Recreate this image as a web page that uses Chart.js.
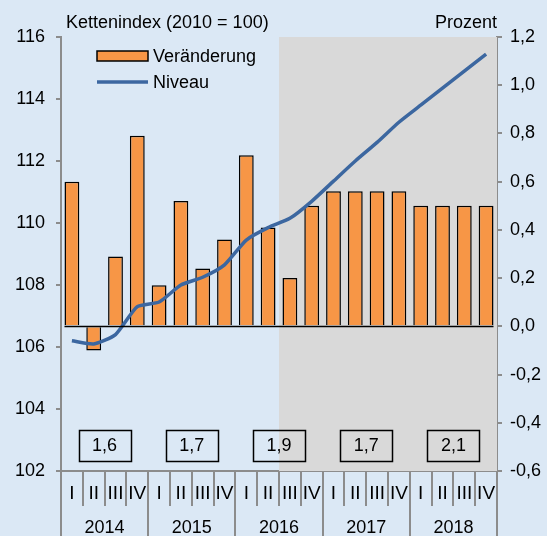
<!DOCTYPE html>
<html>
<head>
<meta charset="utf-8">
<script src="https://cdn.jsdelivr.net/npm/chart.js@4"></script>
<style>
  html, body { margin: 0; padding: 0; background: #dbe8f5; }
  #wrap { width: 547px; height: 536px; }
</style>
</head>
<body>
<div id="wrap"><canvas id="chart-bip" width="547" height="536"></canvas></div>
<script>
// Daten
var quartale = ['I','II','III','IV','I','II','III','IV','I','II','III','IV','I','II','III','IV','I','II','III','IV'];
var jahre = ['2014', '2015', '2016', '2017', '2018'];
var veraenderung = [0.6, -0.1, 0.29, 0.79, 0.17, 0.52, 0.24, 0.36, 0.71, 0.41, 0.2, 0.5, 0.56, 0.56, 0.56, 0.56, 0.5, 0.5, 0.5, 0.5];
var niveau = [106.2, 106.1, 106.4, 107.3, 107.45, 108.0, 108.25, 108.65, 109.45, 109.85, 110.15, 110.7, 111.35, 112.0, 112.6, 113.25, 113.8, 114.35, 114.9, 115.45];
var jahresrate = [1.6, 1.7, 1.9, 1.7, 2.1];
var ticksLinks = [102, 104, 106, 108, 110, 112, 114, 116];
var ticksRechts = [-0.6, -0.4, -0.2, 0.0, 0.2, 0.4, 0.6, 0.8, 1.0, 1.2];
var prognoseAb = 10; // ab 2016 III

var FONT = "'Liberation Sans', Arial, sans-serif";
var NARROW = "'Liberation Sans Narrow', 'Arial Narrow', 'Liberation Sans', sans-serif";
var AXIS_GREY = '#8c8c8c';

function komma(v) {
    return v.toFixed(1).replace('.', ',');
}

var extras = {
    id: 'extras',
    beforeDatasetsDraw: function(chart) {
        var ctx = chart.ctx, a = chart.chartArea, x = chart.scales.x;
        var step = x.getPixelForValue(1) - x.getPixelForValue(0);
        var gx = x.getPixelForValue(prognoseAb) - step / 2;
        ctx.save();
        ctx.fillStyle = '#d9d9d9';
        ctx.fillRect(gx, a.top, a.right - gx, a.bottom - a.top);
        ctx.restore();
    },
    afterDatasetsDraw: function(chart) {
        var ctx = chart.ctx, a = chart.chartArea, x = chart.scales.x, y1 = chart.scales.y1;
        var step = x.getPixelForValue(1) - x.getPixelForValue(0);
        ctx.save();

        // Nulllinie
        var bars = chart.getDatasetMeta(1).data;
        var y0 = Math.round(y1.getPixelForValue(0)) + 0.5;
        ctx.strokeStyle = '#000';
        ctx.lineWidth = 1.5;
        ctx.beginPath();
        ctx.moveTo(bars[0].x - bars[0].width / 2, y0);
        ctx.lineTo(bars[bars.length - 1].x + bars[bars.length - 1].width / 2, y0);
        ctx.stroke();

        // Jahresraten-Kaesten
        ctx.font = '18px ' + FONT;
        ctx.textAlign = 'center';
        ctx.textBaseline = 'middle';
        ctx.lineWidth = 1.5;
        jahresrate.forEach(function(v, i) {
            var cx = (x.getPixelForValue(4 * i + 1) + x.getPixelForValue(4 * i + 2)) / 2;
            var bw = 52, bh = 31;
            var by = a.bottom - 41;
            ctx.strokeStyle = '#000';
            ctx.strokeRect(Math.round(cx - bw / 2) + 0.5, by + 0.5, bw, bh);
            ctx.fillStyle = '#000';
            ctx.fillText(komma(v), cx, by + bh / 2 + 1);
        });

        // x-Achse: Trenner und Beschriftung
        ctx.strokeStyle = AXIS_GREY;
        ctx.lineWidth = 2;
        for (var i = 0; i <= quartale.length; i++) {
            var px = Math.round(x.getPixelForValue(i) - step / 2);
            var unten = (i % 4 === 0) ? chart.height : a.bottom + 35;
            ctx.beginPath();
            ctx.moveTo(px, a.bottom);
            ctx.lineTo(px, unten);
            ctx.stroke();
        }
        ctx.fillStyle = '#000';
        ctx.font = '19px ' + NARROW;
        quartale.forEach(function(q, i) {
            ctx.fillText(q, x.getPixelForValue(i), a.bottom + 23);
        });
        ctx.font = '18px ' + NARROW;
        jahre.forEach(function(j, i) {
            var cx = (x.getPixelForValue(4 * i + 1) + x.getPixelForValue(4 * i + 2)) / 2;
            ctx.fillText(j, cx, a.bottom + 57);
        });

        // Titel
        ctx.font = '18px ' + FONT;
        ctx.textBaseline = 'alphabetic';
        ctx.textAlign = 'left';
        ctx.fillText('Kettenindex (2010 = 100)', 66, 28);
        ctx.textAlign = 'right';
        ctx.fillText('Prozent', a.right, 28);

        // Legende
        ctx.fillStyle = '#f79646';
        ctx.fillRect(97, 51, 51, 10);
        ctx.strokeStyle = '#000';
        ctx.lineWidth = 1.5;
        ctx.strokeRect(97, 51, 51, 10);
        ctx.strokeStyle = '#3c67a0';
        ctx.lineWidth = 3.5;
        ctx.beginPath();
        ctx.moveTo(97, 82);
        ctx.lineTo(148, 82);
        ctx.stroke();
        ctx.fillStyle = '#000';
        ctx.textAlign = 'left';
        ctx.textBaseline = 'middle';
        ctx.fillText('Veränderung', 153, 57);
        ctx.fillText('Niveau', 153, 83);
        ctx.restore();
    }
};

const ctx = document.getElementById('chart-bip').getContext('2d');
const myChart = new Chart(ctx, {
    data: {
        labels: quartale,
        datasets: [{
            type: 'line',
            label: 'Niveau',
            data: niveau,
            yAxisID: 'y',
            borderColor: '#3c67a0',
            backgroundColor: 'transparent',
            borderWidth: 3.5,
            pointRadius: 0,
            tension: 0.2,
            order: 0
        },
        {
            type: 'bar',
            label: 'Veränderung',
            data: veraenderung,
            yAxisID: 'y1',
            backgroundColor: '#f79646',
            borderColor: '#000',
            borderWidth: 1.5,
            categoryPercentage: 1,
            barPercentage: 0.68,
            order: 1
        }]
    },
    options: {
        responsive: false,
        devicePixelRatio: 1,
        animation: false,
        layout: { padding: { top: 37, left: 0, right: 0, bottom: 0 } },
        plugins: {
            legend: { display: false },
            tooltip: { enabled: false }
        },
        scales: {
            x: {
                offset: true,
                grid: { display: false },
                border: { display: true, color: AXIS_GREY, width: 2 },
                ticks: { display: false },
                afterFit: function(s) { s.height = 65; }
            },
            y: {
                position: 'left',
                min: 102,
                max: 116,
                afterBuildTicks: function(s) { s.ticks = ticksLinks.map(function(v) { return { value: v }; }); },
                grid: { drawOnChartArea: false, color: AXIS_GREY, tickLength: 5, lineWidth: 2 },
                border: { color: AXIS_GREY, width: 2 },
                ticks: { color: '#000', font: { size: 18, family: FONT }, padding: 11 },
                afterFit: function(s) { s.width = 61; }
            },
            y1: {
                position: 'right',
                min: -0.6,
                max: 1.2,
                afterBuildTicks: function(s) { s.ticks = ticksRechts.map(function(v) { return { value: v }; }); },
                grid: { drawOnChartArea: false, color: AXIS_GREY, tickLength: 5, lineWidth: 2 },
                border: { color: AXIS_GREY, width: 2 },
                ticks: {
                    color: '#000',
                    font: { size: 18, family: FONT },
                    padding: 8,
                    callback: function(v) { return komma(v); }
                },
                afterFit: function(s) { s.width = 50; }
            }
        }
    },
    plugins: [extras]
});
</script>
</body>
</html>
